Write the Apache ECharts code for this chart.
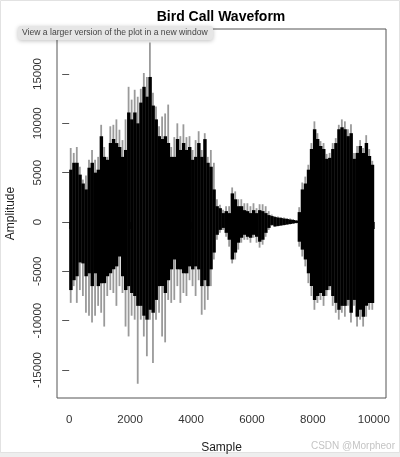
<!DOCTYPE html>
<html>
<head>
<meta charset="utf-8">
<script src="https://cdn.jsdelivr.net/npm/echarts@6/dist/echarts.min.js"></script>
<style>
html,body{margin:0;padding:0;background:#fff;}
#chart{width:400px;height:457px;}
</style>
</head>
<body>
<div id="chart"></div>
<script>
// Waveform summarised in bins of 100 samples (bin start sample index)
const BIN = 100;
const binStart = [];
for (let i = 0; i < 100; i++) binStart.push(i * BIN);

// Outer (light grey spike tips) envelope, upper
const outerMax = [
  7500, 7000, 7600, 5600, 4300, 4700, 6300, 7300, 6300, 6600,
  9850, 7600, 6600, 9700, 9850, 10400, 9350, 8300, 10400, 13700,
  12400, 13400, 12700, 13500, 15100, 14700, 18200, 13100, 11700, 9700,
  10700, 11000, 11900, 7600, 8600, 10000, 8700, 9900, 8600, 8700,
  7300, 8300, 9200, 7300, 9000, 6600, 7300, 6000, 2300, 1750,
  1250, 1600, 1600, 3500, 3100, 2300, 2300, 1900, 1900, 1600,
  1900, 1400, 1800, 1800, 1600, 1100, 750, 600, 550, 500,
  450, 400, 350, 300, 200, 1500, 4000, 4600, 5800, 8000,
  10200, 9000, 8200, 8000, 6900, 7000, 8000, 8500, 9850, 10400,
  10200, 9400, 9900, 7000, 7700, 8300, 7500, 8800, 7400, 6200
];
// Outer envelope, lower
const outerMin = [
  -8200, -6500, -8200, -6900, -7500, -9200, -9500, -10200, -9500, -8500,
  -9200, -10600, -7500, -6900, -7200, -8500, -6500, -7200, -10600, -11600,
  -9500, -9900, -16400, -9900, -11600, -13600, -9900, -14300, -9900, -9200,
  -11600, -12200, -7900, -8200, -7900, -6500, -8200, -7200, -7500, -5900,
  -6500, -7500, -5900, -9400, -8900, -7900, -6500, -3800, -1800, -1100,
  -800, -1500, -2500, -4200, -3800, -2800, -2100, -1800, -1800, -2100,
  -1600, -2100, -2600, -2300, -1500, -800, -400, -500, -450, -400,
  -350, -300, -250, -200, -150, -2500, -3500, -4500, -6200, -7500,
  -8900, -8200, -7900, -8500, -7500, -6900, -8500, -9200, -9900, -9200,
  -9600, -8500, -10200, -8500, -10600, -9900, -10600, -9600, -8900, -8900
];
// Dense (black) core envelope, upper
const innerMax = [
  5300, 6000, 6000, 4800, 3900, 3300, 5500, 6000, 5000, 5300,
  8700, 6600, 6300, 8000, 8400, 8000, 7600, 6600, 7300, 11100,
  10400, 11100, 10000, 12100, 13700, 12700, 14700, 11800, 10400, 8700,
  8400, 8700, 8000, 6600, 6600, 8400, 7300, 8000, 7300, 7600,
  6300, 6600, 8000, 6600, 8400, 6000, 5600, 3300, 1600, 1400,
  900, 1100, 900, 2900, 2300, 1600, 1600, 1200, 1100, 900,
  1200, 900, 1200, 1100, 900, 700, 600, 500, 450, 400,
  350, 300, 250, 200, 150, 1000, 3300, 3900, 5300, 7400,
  9400, 8400, 7700, 7400, 6400, 6500, 7400, 8000, 9400, 9600,
  9400, 8700, 9000, 6400, 7000, 7700, 7000, 8000, 6700, 5800
];
// Dense core envelope, lower
const innerMin = [
  -6900, -5900, -5500, -4100, -4200, -5500, -5200, -6500, -5200, -6500,
  -6200, -6200, -5500, -5200, -4800, -4500, -3500, -5500, -6900, -6500,
  -7200, -7500, -8500, -8500, -9500, -9900, -8900, -9200, -7900, -6500,
  -6500, -7200, -5900, -4800, -3800, -4800, -4800, -5200, -5200, -4500,
  -4800, -4500, -4800, -6500, -5900, -6500, -4800, -3100, -1300, -800,
  -600, -1100, -1800, -3800, -3100, -2100, -1600, -1300, -1500, -1600,
  -1300, -1500, -2000, -1800, -1100, -600, -300, -450, -400, -350,
  -300, -250, -200, -150, -100, -2000, -2800, -3800, -5200, -6500,
  -7900, -7500, -7200, -7500, -6900, -6500, -7500, -8200, -8900, -8500,
  -8500, -7900, -9200, -7900, -9600, -8900, -9600, -8500, -8200, -8200
];

const xTicks = [0, 2000, 4000, 6000, 8000, 10000];
const yTicks = [-15000, -10000, -5000, 0, 5000, 10000, 15000];

const outerData = binStart.map((s, i) => [s, outerMin[i], outerMax[i]]);
const innerData = binStart.map((s, i) => [s, innerMin[i], innerMax[i]]);

const FONT = "'Liberation Sans', Arial, Helvetica, sans-serif";
const plain = v => String(v);

const chart = echarts.init(document.getElementById('chart'), null, {renderer: 'canvas'});
chart.setOption({
  animation: false,
  backgroundColor: '#fff',
  title: {
    text: 'Bird Call Waveform',
    left: 216, top: 5, textAlign: 'center',
    textStyle: {fontFamily: FONT, fontSize: 14, fontWeight: 'bold', color: '#000'}
  },
  grid: {
    left: 57, right: 14, top: 29, bottom: 59,
    outerBoundsMode: 'none', containLabel: false,
    show: true, borderColor: '#555', borderWidth: 1, backgroundColor: 'transparent'
  },
  xAxis: {
    type: 'value', min: -400, max: 10400,
    name: 'Sample', nameLocation: 'middle', nameGap: 44,
    nameTextStyle: {fontFamily: FONT, fontSize: 12, color: '#222'},
    axisLine: {show: false},
    splitLine: {show: false},
    axisTick: {show: true, length: 7, lineStyle: {color: '#555'}, customValues: xTicks},
    axisLabel: {customValues: xTicks, formatter: plain, margin: 16, fontFamily: FONT, fontSize: 11.5, color: '#333'}
  },
  yAxis: {
    type: 'value', min: -17840, max: 19560,
    name: 'Amplitude', nameLocation: 'middle', nameGap: 40, nameRotate: 90,
    nameTextStyle: {fontFamily: FONT, fontSize: 12, color: '#222'},
    axisLine: {show: false},
    splitLine: {show: false},
    axisTick: {show: true, length: 7, lineStyle: {color: '#555'}, customValues: yTicks},
    axisLabel: {customValues: yTicks, formatter: plain, rotate: 90, margin: 13, fontFamily: FONT, fontSize: 11.5, color: '#333'}
  },
  series: [
    {
      type: 'custom',
      name: 'spikes',
      data: outerData,
      encode: {x: 0, y: [1, 2]},
      renderItem: function (params, api) {
        const s = api.value(0);
        const a = api.coord([s + BIN / 2, api.value(2)]);
        const b = api.coord([s + BIN / 2, api.value(1)]);
        return {
          type: 'line',
          shape: {x1: a[0], y1: a[1], x2: b[0], y2: b[1]},
          style: {stroke: '#9a9a9a', lineWidth: 1.8}
        };
      }
    },
    {
      type: 'custom',
      name: 'core',
      data: innerData,
      encode: {x: 0, y: [1, 2]},
      renderItem: function (params, api) {
        const s = api.value(0);
        const a = api.coord([s, api.value(2)]);
        const b = api.coord([s + BIN, api.value(1)]);
        return {
          type: 'rect',
          shape: {x: a[0], y: a[1], width: b[0] - a[0] + 0.4, height: b[1] - a[1]},
          style: {fill: '#000'}
        };
      }
    }
  ],
  graphic: [
    {type: 'rect', z: 0, silent: true, shape: {x: 0, y: 452, width: 400, height: 5}, style: {fill: '#eeeeee'}},
    {type: 'rect', z: 0, silent: true, shape: {x: 0.5, y: 0.5, width: 399, height: 452}, style: {fill: 'none', stroke: '#e2e2e2', lineWidth: 1}},
    {
      type: 'group', z: 100,
      children: [
        {type: 'rect', shape: {x: 18, y: 26, width: 195, height: 14, r: 3},
         style: {fill: '#e6e6e6', shadowBlur: 4, shadowColor: 'rgba(0,0,0,0.25)', shadowOffsetY: 1}},
        {type: 'text', x: 22, y: 33,
         style: {text: 'View a larger version of the plot in a new window', fontFamily: FONT, fontSize: 8.6, fill: '#444', verticalAlign: 'middle'}}
      ]
    },
    {type: 'text', z: 100, x: 395, y: 446,
     style: {text: 'CSDN @Morpheor', fontFamily: FONT, fontSize: 10, fill: '#c4c4c4', align: 'right', verticalAlign: 'middle'}}
  ]
});
</script>
</body>
</html>
